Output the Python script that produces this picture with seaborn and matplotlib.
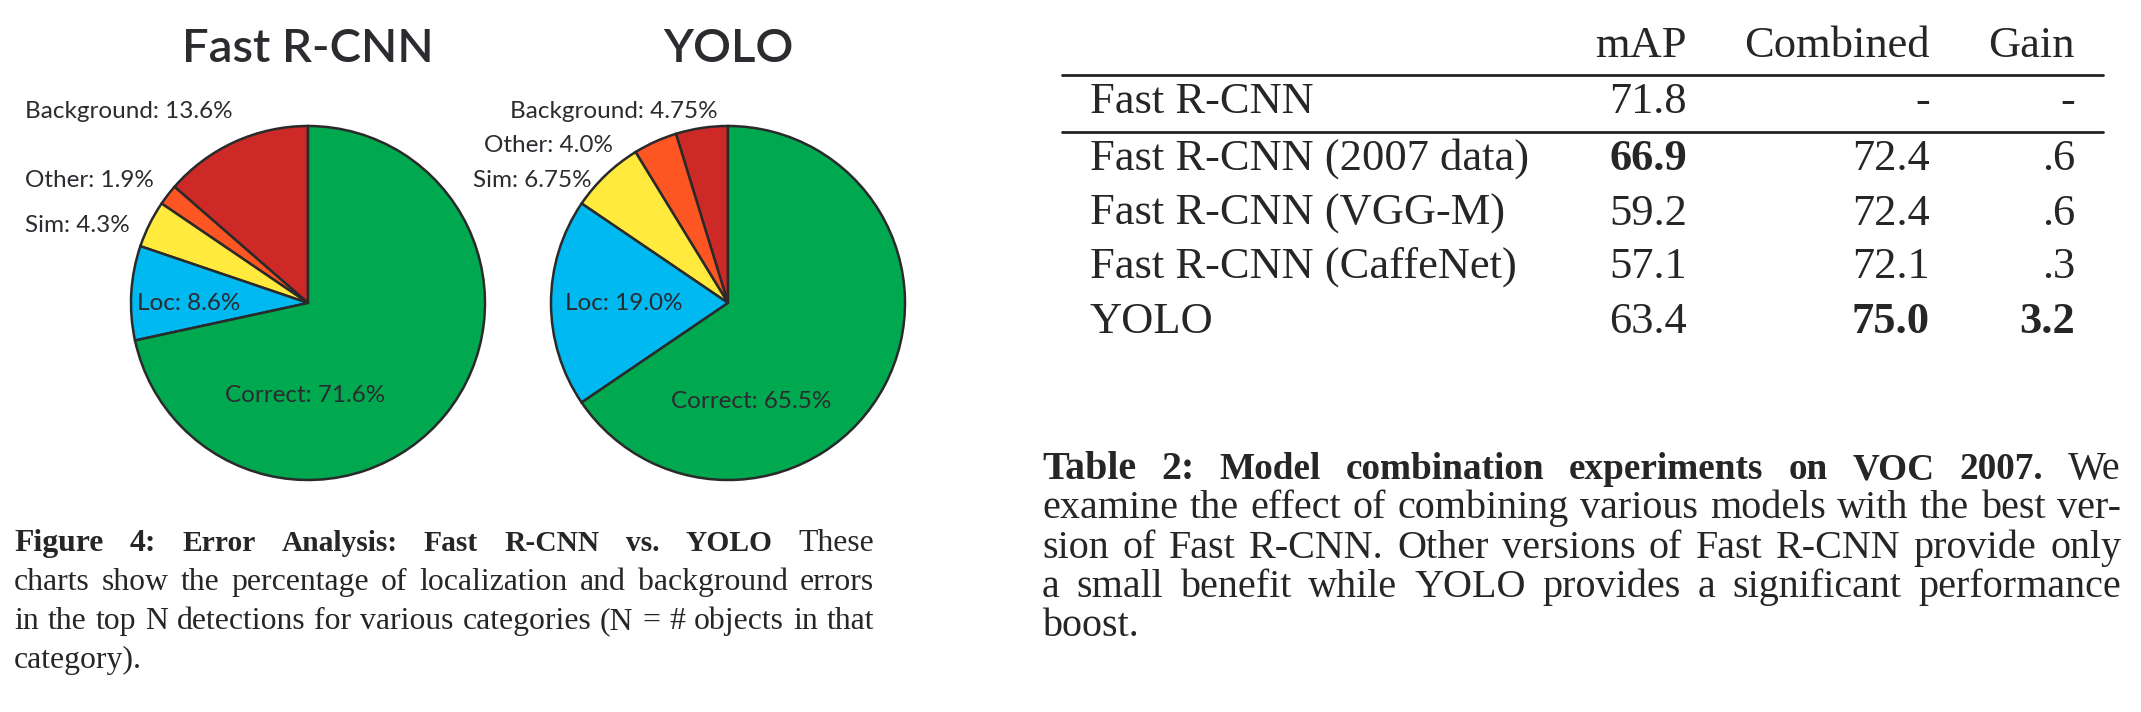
import matplotlib
matplotlib.use("Agg")
import matplotlib.pyplot as plt
import seaborn as sns

# ---- data ----
error_types = ["Background", "Other", "Sim", "Loc", "Correct"]
frcnn_share = [13.6, 1.9, 4.3, 8.6, 71.6]
yolo_share = [4.75, 4.0, 6.75, 19.0, 65.5]
pie_titles = ["Fast R-CNN", "YOLO"]
slice_colors = ["#CD2A27", "#FD5623", "#FFEA3D", "#00B9F1", "#00A94F"]

col_headers = ["mAP", "Combined", "Gain"]
models = ["Fast R-CNN", "Fast R-CNN (2007 data)", "Fast R-CNN (VGG-M)",
          "Fast R-CNN (CaffeNet)", "YOLO"]
map_vals = ["71.8", "66.9", "59.2", "57.1", "63.4"]
combined_vals = ["-", "72.4", "72.4", "72.1", "75.0"]
gain_vals = ["-", ".6", ".6", ".3", "3.2"]
bold_cells = {(1, 0), (4, 1), (4, 2)}

fig_caption = [
    [("Figure 4:", "bold", 1.0), ("Error Analysis:  Fast R-CNN vs.  YOLO", "bold", 0.93), ("These", "normal", 1.0)],
    [("charts show the percentage of localization and background errors", "normal", 1.0)],
    [("in the top N detections for various categories (N = # objects in that", "normal", 1.0)],
    [("category).", "normal", 1.0)],
]
tab_caption = [
    [("Table 2:", "bold", 1.0), ("Model combination experiments on VOC 2007.", "bold", 0.93), ("We", "normal", 1.0)],
    [("examine the effect of combining various models with the best ver-", "normal", 1.0)],
    [("sion of Fast R-CNN. Other versions of Fast R-CNN provide only", "normal", 1.0)],
    [("a small benefit while YOLO provides a significant performance", "normal", 1.0)],
    [("boost.", "normal", 1.0)],
]

W, H = 2141, 712
sns.set_style("white")
plt.rcParams["font.family"] = ["Liberation Serif", "DejaVu Serif"]

fig = plt.figure(figsize=(W / 100, H / 100), dpi=100)
renderer = fig.canvas.get_renderer()


def fx(x):
    return x / W


def fy(y):
    return 1 - y / H


# ---- pies ----
R = 177
pie_centers = [(308, 303), (728, 303)]
label_layout = [
    [(25, 118, "left"), (25, 187, "left"), (25, 232, "left"), (137, 310, "left"), (305, 402, "center")],
    [(718, 118, "right"), (613, 152, "right"), (592, 187, "right"), (565, 310, "left"), (751, 408, "center")],
]
sans = ["Lato", "DejaVu Sans"]
ink = "#2b2b30"

for (cx, cy), title, shares, layout in zip(pie_centers, pie_titles,
                                            [frcnn_share, yolo_share], label_layout):
    pad = 1.03
    ax = fig.add_axes([fx(cx - R * pad), fy(cy + R * pad), 2 * R * pad / W, 2 * R * pad / H])
    ax.pie(shares, colors=slice_colors, startangle=90, counterclock=True,
           wedgeprops=dict(edgecolor="#2a2a2a", linewidth=1.8))
    ax.set_xlim(-pad, pad)
    ax.set_ylim(-pad, pad)
    ax.axis("off")
    fig.text(fx(cx), fy(62), title, ha="center", va="baseline",
             fontsize=34, family=sans, weight="semibold", color=ink)
    for name, v, (lx, ly, ha) in zip(error_types, shares, layout):
        fig.text(fx(lx), fy(ly), f"{name}: {v}%", ha=ha, va="baseline",
                 fontsize=17.5, family=sans, color=ink)

# ---- table ----
tfs = 32
row_base = [113, 170, 225, 278, 333]
col_right = [1687, 1930, 2075]
for j, h in enumerate(col_headers):
    fig.text(fx(col_right[j]), fy(57), h, ha="right", va="baseline", fontsize=tfs)
for i, m in enumerate(models):
    fig.text(fx(1090), fy(row_base[i]), m, ha="left", va="baseline", fontsize=tfs)
    for j, col in enumerate([map_vals, combined_vals, gain_vals]):
        w = "bold" if (i, j) in bold_cells else "normal"
        fig.text(fx(col_right[j]), fy(row_base[i]), col[i], ha="right",
                 va="baseline", fontsize=tfs, weight=w)
for ry in [75, 132]:
    fig.add_artist(plt.Line2D([fx(1062), fx(2103)], [fy(ry), fy(ry)],
                              transform=fig.transFigure, color="#222222", linewidth=2.0))


# ---- justified captions ----
def word_list(segs, fs):
    out = []
    for text, weight, scale in segs:
        for wd in text.split():
            out.append((wd, weight, fs * scale))
    return out


def natural_width(segs, fs):
    words = word_list(segs, fs)
    total = 0
    for wd, weight, size in words:
        t = fig.text(0, 0, wd, fontsize=size, weight=weight)
        total += t.get_window_extent(renderer).width
        t.remove()
    return total + (len(words) - 1) * fs * 0.25 * 100 / 72


def caption(lines, x0, x1, y0, step):
    # pick a size so the widest justified line just fits
    base = 20
    widest = max(natural_width(segs, base) for segs in lines[:-1])
    fs = base * (x1 - x0) / widest * 0.985
    for k, segs in enumerate(lines):
        arts = []
        for wd, weight, size in word_list(segs, fs):
            arts.append(fig.text(0, fy(y0 + k * step), wd, ha="left", va="baseline",
                                 fontsize=size, weight=weight))
        widths = [a.get_window_extent(renderer).width for a in arts]
        if k == len(lines) - 1 or len(arts) == 1:
            gap = fs * 0.25 * 100 / 72
        else:
            gap = (x1 - x0 - sum(widths)) / (len(arts) - 1)
        x = x0
        for a, w in zip(arts, widths):
            a.set_x(fx(x))
            x += w + gap


caption(fig_caption, 14, 874, 551, 39)
caption(tab_caption, 1042, 2121, 479, 39.3)

fig.savefig("out.png", dpi=100)
